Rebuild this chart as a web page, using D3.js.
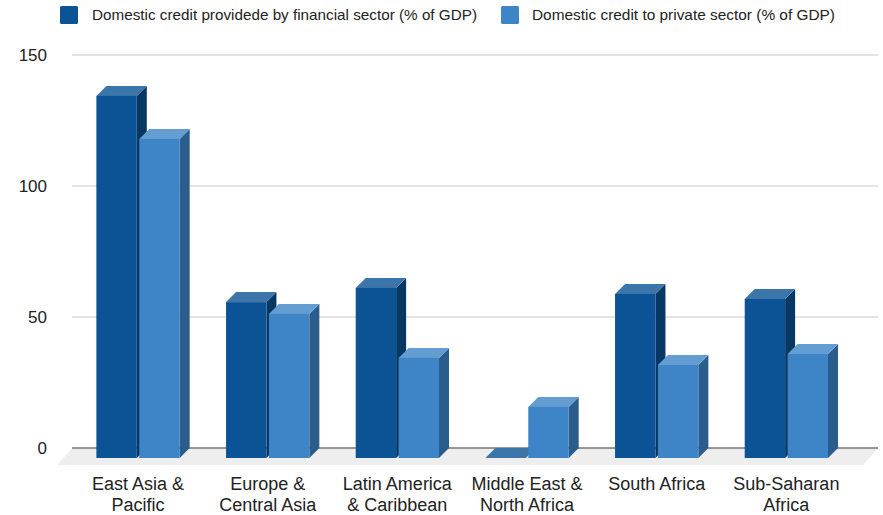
<!DOCTYPE html>
<html>
<head>
<meta charset="utf-8">
<script src="https://cdn.jsdelivr.net/npm/d3@7"></script>
<style>
  html, body { margin: 0; background: #fff; }
  text { font-family: "Liberation Sans", Arial, sans-serif; fill: #222; }
</style>
</head>
<body>
<svg id="chart" width="883" height="515"></svg>
<script>
const categories = [
  ["East Asia &", "Pacific"],
  ["Europe &", "Central Asia"],
  ["Latin America", "& Caribbean"],
  ["Middle East &", "North Africa"],
  ["South Africa"],
  ["Sub-Saharan", "Africa"]
];
const financialSector = [138.2, 59.5, 64.9, 0, 62.6, 60.7];
const privateSector = [121.8, 55, 38.2, 19.5, 35.5, 39.7];
const seriesNames = [
  "Domestic credit providede by financial sector (% of GDP)",
  "Domestic credit to private sector (% of GDP)"
];
const tickValues = [0, 50, 100, 150];

// Face colours per series: front, side, top
const palette = [
  { front: "#0b5394", side: "#073763", top: "#3c75a9" },
  { front: "#3d85c6", side: "#2a5d8b", top: "#649dd1" }
];

const svg = d3.select("#chart");
const depthX = 10, depthY = 10;

// Value axis runs along the back wall; bars stand one depth step in front of it
const y = d3.scaleLinear().domain([0, 150]).range([448, 55]);
const x0 = d3.scaleBand().domain(d3.range(categories.length)).range([73.2, 851.2]).paddingInner(0.3576).paddingOuter(0.1788);
const x1 = d3.scaleBand().domain([0, 1]).range([0, x0.bandwidth()]).paddingInner(0.058);

// Gridlines
svg.append("g").selectAll("line")
  .data(tickValues.filter(d => d > 0))
  .join("line")
  .attr("x1", 72).attr("x2", 878)
  .attr("y1", d => y(d)).attr("y2", d => y(d))
  .attr("stroke", "#c8c8c8").attr("stroke-width", 1);

// Tick labels
svg.append("g").selectAll("text")
  .data(tickValues)
  .join("text")
  .attr("x", 47).attr("y", d => y(d))
  .attr("text-anchor", "end").attr("dominant-baseline", "central")
  .attr("font-size", 17)
  .text(d => d);

// Floor
svg.append("polygon")
  .attr("points", [[72, y(0) + 0.5], [878, y(0) + 0.5], [863, y(0) + 17], [57, y(0) + 17]].join(" "))
  .attr("fill", "#eeeeee");

// Baseline on the back wall
svg.append("line")
  .attr("x1", 72).attr("x2", 878)
  .attr("y1", y(0)).attr("y2", y(0))
  .attr("stroke", "#333").attr("stroke-width", 1.2);

// Bars, drawn as three faces each
const series = [financialSector, privateSector];
series.forEach((values, s) => {
  const c = palette[s];
  const g = svg.append("g").selectAll("g")
    .data(values)
    .join("g")
    .attr("transform", (d, i) => `translate(${x0(i) + x1(s)},0)`);
  const w = x1.bandwidth();
  const base = y(0) + depthY;
  g.append("polygon").attr("fill", c.side)
    .attr("points", d => {
      const t = y(d) + depthY;
      return [[w, t], [w + depthX, t - depthY], [w + depthX, base - depthY], [w, base]].join(" ");
    });
  g.append("polygon").attr("fill", c.top)
    .attr("points", d => {
      const t = y(d) + depthY;
      return [[0, t], [depthX, t - depthY], [w + depthX, t - depthY], [w, t]].join(" ");
    });
  g.append("rect").attr("fill", c.front)
    .attr("width", w)
    .attr("y", d => y(d) + depthY)
    .attr("height", d => y(0) - y(d));
});

// Category labels, wrapped onto two lines where needed
const labels = svg.append("g").selectAll("text")
  .data(categories)
  .join("text")
  .attr("text-anchor", "middle")
  .attr("font-size", 18)
  .attr("x", (d, i) => x0(i) + x0.bandwidth() / 2)
  .attr("y", 490);
labels.selectAll("tspan")
  .data(d => d)
  .join("tspan")
  .attr("x", function () { return d3.select(this.parentNode).attr("x"); })
  .attr("dy", (d, i) => i ? 21 : 0)
  .text(d => d);

// Legend
const legendX = [60, 501], legendTextX = [92, 532], legendTextW = [385, 303];
seriesNames.forEach((name, i) => {
  svg.append("rect")
    .attr("x", legendX[i]).attr("y", 6).attr("width", 18).attr("height", 18).attr("rx", 1.5)
    .attr("fill", palette[i].front);
  svg.append("text")
    .attr("x", legendTextX[i]).attr("y", 20)
    .attr("font-size", 15)
    .attr("textLength", legendTextW[i]).attr("lengthAdjust", "spacingAndGlyphs")
    .text(name);
});
</script>
</body>
</html>
